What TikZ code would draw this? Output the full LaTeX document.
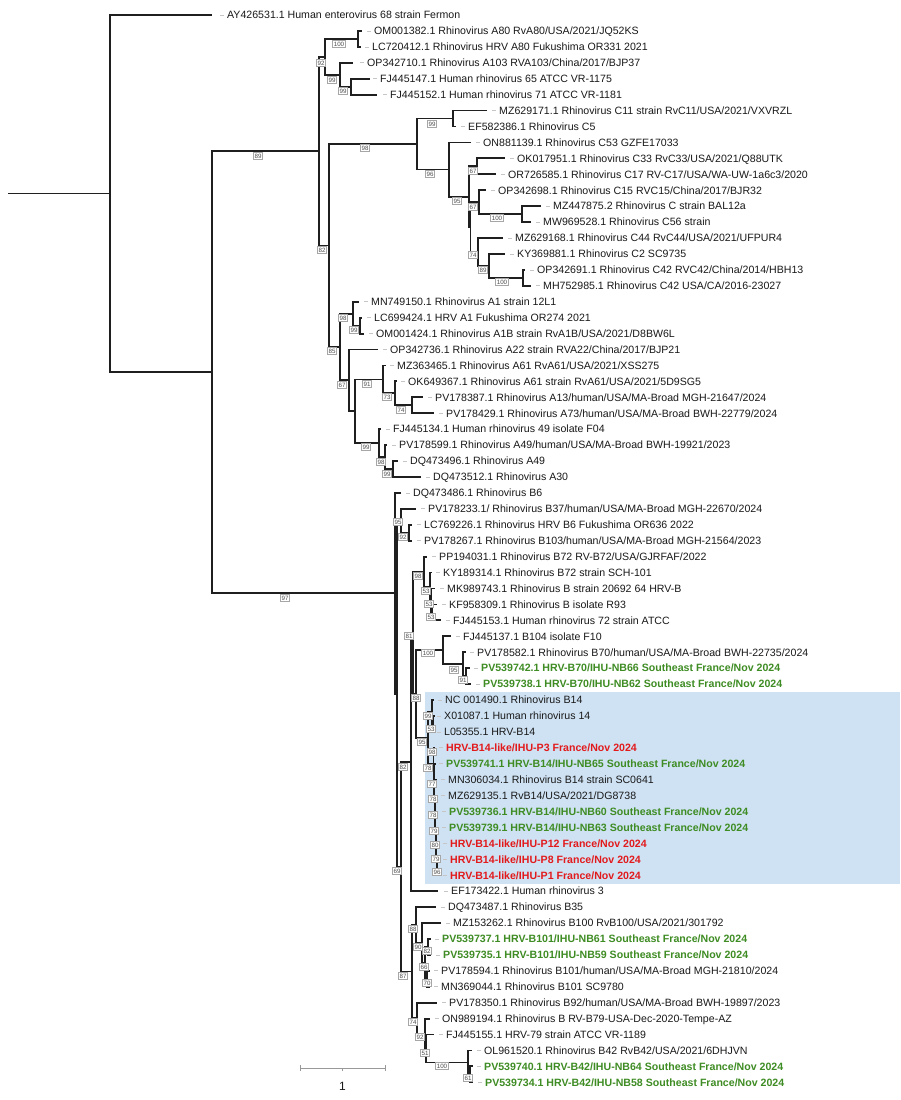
\documentclass[tikz,border=0pt]{standalone}
\usepackage{fontspec}
\setmainfont{Liberation Sans}
\definecolor{hgreen}{RGB}{62,140,35}
\definecolor{hred}{RGB}{226,26,28}
\definecolor{hblue}{RGB}{207,226,243}
\definecolor{txt}{RGB}{25,25,25}
\newcommand\yrow[1]{15+15.93*(#1-1)}
\newcommand\ylab[1]{18.8+15.93*(#1-1)}
\newcommand\lbf{\fontsize{10.6}{12}\selectfont}
\newcommand\mytip[5][]{%
  \coordinate (t#2) at (#3,{\yrow{#2}});
  \node[lab,#1] (l#2) at (#4,{\ylab{#2}}) {#5};
  \draw[lead] ({#4-7},{\yrow{#2}}) -- ({#4-3.5},{\yrow{#2}});
}
\newcommand\inode[3]{\coordinate (#1) at (#2,{\yrow{#3}});}
\begin{document}
\begin{tikzpicture}[x=1pt,y=-1pt,
  br/.style={line width=1.8pt, black!88, line join=miter},
  lab/.style={anchor=base west, inner sep=0pt, font=\lbf, text=txt},
  gb/.style={text=hgreen, font=\lbf\bfseries},
  rb/.style={text=hred, font=\lbf\bfseries},
  lead/.style={line width=0.7pt, gray!45},
  bs/.style={draw=gray!70, fill=white, line width=0.5pt, text=black!70,
    font=\fontsize{6.2}{6.2}\selectfont, inner xsep=1.1pt, inner ysep=1.3pt,
    text height=4.5pt, text depth=0pt},
  sb/.style={line width=0.8pt, gray!80}
]
\fill[white] (0,0) rectangle (900,1100);
\useasboundingbox (0,0) rectangle (900,1100);
% highlight
\fill[hblue] (425,692) rectangle (900,884);

% internal nodes
\inode{root}{8}{12.21}
\inode{R1}{110}{12.21}
\inode{R2}{212}{23.427}
\inode{nAC}{319}{9.5488}
\inode{n92}{325}{3.625}
\inode{nA80}{358}{2.5}
\inode{nA103}{340}{4.75}
\inode{nA65}{351}{5.5}
\inode{n82}{329}{15.4727}
\inode{nC98}{417}{9.1016}
\inode{nC99}{453}{7.5}
\inode{nC96}{449}{10.703}
\inode{nC95}{469}{12.406}
\inode{nC67a}{477}{10.5}
\inode{nCX}{470.5}{14.3125}
\inode{nC67b}{479}{12.75}
\inode{nC100}{522}{13.5}
\inode{nC74}{478}{15.875}
\inode{nC89}{489}{16.75}
\inode{nC100b}{523}{17.5}
\inode{n85}{340}{21.84375}
\inode{nA198}{353}{19.75}
\inode{nA199}{360}{20.5}
\inode{n67}{349}{23.9375}
\inode{nY}{355}{25.875}
\inode{n91}{383}{23.875}
\inode{n73}{395}{24.75}
\inode{n74A}{412}{25.5}
\inode{n99A}{379}{27.875}
\inode{n98A}{385}{28.75}
\inode{n99c}{393}{29.5}
\inode{nB}{395}{37.305}
\inode{nYB}{397}{43.61}
\inode{n95a}{401}{32.75}
\inode{n92a}{409}{33.5}
\inode{n69}{401}{54.47}
\inode{n82B}{411}{47.89}
\inode{n81}{413}{39.781}
\inode{n98B}{424}{35.9375}
\inode{n53a}{430}{36.875}
\inode{n53b}{431}{37.75}
\inode{n53c}{432}{38.5}
\inode{n88}{416}{43.624}
\inode{n100b}{443}{40.875}
\inode{n95b}{463}{41.75}
\inode{n91B}{466}{42.5}
\inode{n95c}{428}{46.373}
\inode{n99d}{432}{44.75}
\inode{n53d}{433}{45.5}
\inode{c8}{433.5}{47.996}
\inode{c7}{434}{48.992}
\inode{c6}{434.5}{49.984}
\inode{c5}{435}{50.969}
\inode{c4}{435.5}{51.9375}
\inode{c3}{436}{52.875}
\inode{c2}{436.5}{53.75}
\inode{c1}{437}{54.5}
\inode{n87}{412}{61.047}
\inode{n88x}{416}{58.125}
\inode{n90}{422}{59.25}
\inode{n66}{425}{60.5}
\inode{n82x}{428}{59.5}
\inode{n70}{427}{61.5}
\inode{n74x}{417}{63.969}
\inode{n92x}{425}{64.9375}
\inode{n51}{426}{65.875}
\inode{n100x}{468}{66.75}
\inode{n61}{470}{67.5}

% tips and labels
\mytip{1}{212}{227}{AY426531.1 Human enterovirus 68 strain Fermon}
\mytip{2}{362}{374}{OM001382.1 Rhinovirus A80 RvA80/USA/2021/JQ52KS}
\mytip{3}{361}{372}{LC720412.1 Rhinovirus HRV A80 Fukushima OR331 2021}
\mytip{4}{353}{367}{OP342710.1 Rhinovirus A103 RVA103/China/2017/BJP37}
\mytip{5}{370}{380}{FJ445147.1 Human rhinovirus 65 ATCC VR-1175}
\mytip{6}{377}{390}{FJ445152.1 Human rhinovirus 71 ATCC VR-1181}
\mytip{7}{487}{499}{MZ629171.1 Rhinovirus C11 strain RvC11/USA/2021/VXVRZL}
\mytip{8}{456}{468}{EF582386.1 Rhinovirus C5}
\mytip{9}{471}{483}{ON881139.1 Rhinovirus C53 GZFE17033}
\mytip{10}{505}{517}{OK017951.1 Rhinovirus C33 RvC33/USA/2021/Q88UTK}
\mytip{11}{496}{508}{OR726585.1 Rhinovirus C17 RV-C17/USA/WA-UW-1a6c3/2020}
\mytip{12}{486}{498}{OP342698.1 Rhinovirus C15 RVC15/China/2017/BJR32}
\mytip{13}{541}{553}{MZ447875.2 Rhinovirus C strain BAL12a}
\mytip{14}{531}{543}{MW969528.1 Rhinovirus C56 strain}
\mytip{15}{503}{515}{MZ629168.1 Rhinovirus C44 RvC44/USA/2021/UFPUR4}
\mytip{16}{505}{517}{KY369881.1 Rhinovirus C2 SC9735}
\mytip{17}{525}{537}{OP342691.1 Rhinovirus C42 RVC42/China/2014/HBH13}
\mytip{18}{531}{543}{MH752985.1 Rhinovirus C42 USA/CA/2016-23027}
\mytip{19}{359}{371}{MN749150.1 Rhinovirus A1 strain 12L1}
\mytip{20}{362}{374}{LC699424.1 HRV A1 Fukushima OR274 2021}
\mytip{21}{364}{376}{OM001424.1 Rhinovirus A1B strain RvA1B/USA/2021/D8BW6L}
\mytip{22}{378}{390}{OP342736.1 Rhinovirus A22 strain RVA22/China/2017/BJP21}
\mytip{23}{386}{397}{MZ363465.1 Rhinovirus A61 RvA61/USA/2021/XSS275}
\mytip{24}{397}{408}{OK649367.1 Rhinovirus A61 strain RvA61/USA/2021/5D9SG5}
\mytip{25}{423}{435}{PV178387.1 Rhinovirus A13/human/USA/MA-Broad MGH-21647/2024}
\mytip{26}{434}{446}{PV178429.1 Rhinovirus A73/human/USA/MA-Broad BWH-22779/2024}
\mytip{27}{381}{393}{FJ445134.1 Human rhinovirus 49 isolate F04}
\mytip{28}{387}{399}{PV178599.1 Rhinovirus A49/human/USA/MA-Broad BWH-19921/2023}
\mytip{29}{398}{410}{DQ473496.1 Rhinovirus A49}
\mytip{30}{421}{433}{DQ473512.1 Rhinovirus A30}
\mytip{31}{401}{413}{DQ473486.1 Rhinovirus B6}
\mytip{32}{416}{428}{PV178233.1/ Rhinovirus B37/human/USA/MA-Broad MGH-22670/2024}
\mytip{33}{412}{424}{LC769226.1 Rhinovirus HRV B6 Fukushima OR636 2022}
\mytip{34}{412}{424}{PV178267.1 Rhinovirus B103/human/USA/MA-Broad MGH-21564/2023}
\mytip{35}{427}{439}{PP194031.1 Rhinovirus B72 RV-B72/USA/GJRFAF/2022}
\mytip{36}{432}{443}{KY189314.1 Rhinovirus B72 strain SCH-101}
\mytip{37}{435}{447}{MK989743.1 Rhinovirus B strain 20692 64 HRV-B}
\mytip{38}{437}{449}{KF958309.1 Rhinovirus B isolate R93}
\mytip{39}{441}{453}{FJ445153.1 Human rhinovirus 72 strain ATCC}
\mytip{40}{451}{463}{FJ445137.1 B104 isolate F10}
\mytip{41}{466}{477}{PV178582.1 Rhinovirus B70/human/USA/MA-Broad BWH-22735/2024}
\mytip[gb]{42}{470}{481}{PV539742.1 HRV-B70/IHU-NB66 Southeast France/Nov 2024}
\mytip[gb]{43}{471}{483}{PV539738.1 HRV-B70/IHU-NB62 Southeast France/Nov 2024}
\mytip{44}{434}{445}{NC 001490.1 Rhinovirus B14}
\mytip{45}{434.5}{444}{X01087.1 Human rhinovirus 14}
\mytip{46}{434.5}{444}{L05355.1 HRV-B14}
\mytip[rb]{47}{435}{446}{HRV-B14-like/IHU-P3 France/Nov 2024}
\mytip[gb]{48}{436}{446}{PV539741.1 HRV-B14/IHU-NB65 Southeast France/Nov 2024}
\mytip{49}{437}{448}{MN306034.1 Rhinovirus B14 strain SC0641}
\mytip{50}{437}{448}{MZ629135.1 RvB14/USA/2021/DG8738}
\mytip[gb]{51}{438}{449}{PV539736.1 HRV-B14/IHU-NB60 Southeast France/Nov 2024}
\mytip[gb]{52}{438}{449}{PV539739.1 HRV-B14/IHU-NB63 Southeast France/Nov 2024}
\mytip[rb]{53}{439}{450}{HRV-B14-like/IHU-P12 France/Nov 2024}
\mytip[rb]{54}{439}{450}{HRV-B14-like/IHU-P8 France/Nov 2024}
\mytip[rb]{55}{439}{450}{HRV-B14-like/IHU-P1 France/Nov 2024}
\mytip{56}{438}{451}{EF173422.1 Human rhinovirus 3}
\mytip{57}{436}{448}{DQ473487.1 Rhinovirus B35}
\mytip{58}{441}{453}{MZ153262.1 Rhinovirus B100 RvB100/USA/2021/301792}
\mytip[gb]{59}{431}{442}{PV539737.1 HRV-B101/IHU-NB61 Southeast France/Nov 2024}
\mytip[gb]{60}{431}{443}{PV539735.1 HRV-B101/IHU-NB59 Southeast France/Nov 2024}
\mytip{61}{430}{441}{PV178594.1 Rhinovirus B101/human/USA/MA-Broad MGH-21810/2024}
\mytip{62}{430}{441}{MN369044.1 Rhinovirus B101 SC9780}
\mytip{63}{437}{449}{PV178350.1 Rhinovirus B92/human/USA/MA-Broad BWH-19897/2023}
\mytip{64}{430}{442}{ON989194.1 Rhinovirus B RV-B79-USA-Dec-2020-Tempe-AZ}
\mytip{65}{434}{446}{FJ445155.1 HRV-79 strain ATCC VR-1189}
\mytip{66}{472}{484}{OL961520.1 Rhinovirus B42 RvB42/USA/2021/6DHJVN}
\mytip[gb]{67}{473}{484}{PV539740.1 HRV-B42/IHU-NB64 Southeast France/Nov 2024}
\mytip[gb]{68}{473}{485}{PV539734.1 HRV-B42/IHU-NB58 Southeast France/Nov 2024}

% branches
\draw[br] (root) -- (R1)
  (R1) |- (t1) (R1) |- (R2)
  (R2) |- (nAC) (R2) |- (nB)
  (nAC) |- (n92) (nAC) |- (n82)
  (n92) |- (nA80) (n92) |- (nA103)
  (nA80) |- (t2) (nA80) |- (t3)
  (nA103) |- (t4) (nA103) |- (nA65)
  (nA65) |- (t5) (nA65) |- (t6)
  (n82) |- (nC98) (n82) |- (n85)
  (nC98) |- (nC99) (nC98) |- (nC96)
  (nC99) |- (t7) (nC99) |- (t8)
  (nC96) |- (t9) (nC96) |- (nC95)
  (nC95) |- (nC67a) (nC95) |- (nCX)
  (nC67a) |- (t10) (nC67a) |- (t11)
  (nCX) |- (nC67b) (nCX) |- (nC74)
  (nC67b) |- (t12) (nC67b) |- (nC100)
  (nC100) |- (t13) (nC100) |- (t14)
  (nC74) |- (t15) (nC74) |- (nC89)
  (nC89) |- (t16) (nC89) |- (nC100b)
  (nC100b) |- (t17) (nC100b) |- (t18)
  (n85) |- (nA198) (n85) |- (n67)
  (nA198) |- (t19) (nA198) |- (nA199)
  (nA199) |- (t20) (nA199) |- (t21)
  (n67) |- (t22) (n67) |- (nY)
  (nY) |- (n91) (nY) |- (n99A)
  (n91) |- (t23) (n91) |- (n73)
  (n73) |- (t24) (n73) |- (n74A)
  (n74A) |- (t25) (n74A) |- (t26)
  (n99A) |- (t27) (n99A) |- (n98A)
  (n98A) |- (t28) (n98A) |- (n99c)
  (n99c) |- (t29) (n99c) |- (t30)
  (nB) |- (t31) (nB) |- (nYB)
  (nYB) |- (n95a) (nYB) |- (n69)
  (n95a) |- (t32) (n95a) |- (n92a)
  (n92a) |- (t33) (n92a) |- (t34)
  (n69) |- (n82B) (n69) |- (n87)
  (n82B) |- (n81) (n82B) |- (t56)
  (n81) |- (n98B) (n81) |- (n88)
  (n98B) |- (t35) (n98B) |- (n53a)
  (n53a) |- (t36) (n53a) |- (n53b)
  (n53b) |- (t37) (n53b) |- (n53c)
  (n53c) |- (t38) (n53c) |- (t39)
  (n88) |- (n100b) (n88) |- (n95c)
  (n100b) |- (t40) (n100b) |- (n95b)
  (n95b) |- (t41) (n95b) |- (n91B)
  (n91B) |- (t42) (n91B) |- (t43)
  (n95c) |- (n99d) (n95c) |- (c8)
  (n99d) |- (t44) (n99d) |- (n53d)
  (n53d) |- (t45) (n53d) |- (t46)
  (c8) |- (t47) (c8) |- (c7)
  (c7) |- (t48) (c7) |- (c6)
  (c6) |- (t49) (c6) |- (c5)
  (c5) |- (t50) (c5) |- (c4)
  (c4) |- (t51) (c4) |- (c3)
  (c3) |- (t52) (c3) |- (c2)
  (c2) |- (t53) (c2) |- (c1)
  (c1) |- (t54) (c1) |- (t55)
  (n87) |- (n88x) (n87) |- (n74x)
  (n88x) |- (t57) (n88x) |- (n90)
  (n90) |- (t58) (n90) |- (n66)
  (n66) |- (n82x) (n66) |- (n70)
  (n82x) |- (t59) (n82x) |- (t60)
  (n70) |- (t61) (n70) |- (t62)
  (n74x) |- (t63) (n74x) |- (n92x)
  (n92x) |- (t64) (n92x) |- (n51)
  (n51) |- (t65) (n51) |- (n100x)
  (n100x) |- (t66) (n100x) |- (n61)
  (n61) |- (t67) (n61) |- (t68);

% bootstrap boxes
\node[bs] (b01) at (258,156) {89};
\node[bs] (b02) at (285,598) {97};
\node[bs] (b03) at (321,63) {92};
\node[bs] (b04) at (339,44) {100};
\node[bs] (b05) at (332,80) {99};
\node[bs] (b06) at (343,91) {99};
\node[bs] (b07) at (322,250) {82};
\node[bs] (b08) at (365,148) {98};
\node[bs] (b09) at (332,351) {85};
\node[bs] (b10) at (343,318) {98};
\node[bs] (b11) at (354,330) {99};
\node[bs] (b12) at (342,385) {67};
\node[bs] (b13) at (367,384) {91};
\node[bs] (b14) at (387,397) {73};
\node[bs] (b15) at (401,410) {74};
\node[bs] (b16) at (366,447) {99};
\node[bs] (b17) at (381,462) {98};
\node[bs] (b18) at (387,474) {99};
\node[bs] (b19) at (432,124) {99};
\node[bs] (b20) at (430,174) {96};
\node[bs] (b21) at (457,201) {95};
\node[bs] (b22) at (473,171) {67};
\node[bs] (b23) at (473,207) {67};
\node[bs] (b24) at (497,218) {100};
\node[bs] (b25) at (473,255) {74};
\node[bs] (b26) at (483,270) {89};
\node[bs] (b27) at (502,282) {100};
\node[bs] (b28) at (398,522) {95};
\node[bs] (b29) at (403,537) {92};
\node[bs] (b30) at (418,576) {98};
\node[bs] (b31) at (426,591) {53};
\node[bs] (b32) at (429,604) {53};
\node[bs] (b33) at (431,617) {53};
\node[bs] (b34) at (409,636) {81};
\node[bs] (b35) at (428,653) {100};
\node[bs] (b36) at (454,670) {95};
\node[bs] (b37) at (463,680) {91};
\node[bs] (b38) at (416,698) {88};
\node[bs] (b39) at (428,716) {99};
\node[bs] (b40) at (431,729) {53};
\node[bs] (b41) at (422,742) {95};
\node[bs] (b42) at (432,752) {98};
\node[bs] (b43) at (428,768) {78};
\node[bs] (b44) at (432,784) {77};
\node[bs] (b45) at (433,799) {78};
\node[bs] (b46) at (433,815) {78};
\node[bs] (b47) at (434,831) {79};
\node[bs] (b48) at (435,845) {80};
\node[bs] (b49) at (436,859) {79};
\node[bs] (b50) at (437,872) {96};
\node[bs] (b51) at (403,767) {82};
\node[bs] (b52) at (397,871) {69};
\node[bs] (b53) at (413,929) {88};
\node[bs] (b54) at (418,947) {90};
\node[bs] (b55) at (427,951) {82};
\node[bs] (b56) at (424,967) {66};
\node[bs] (b57) at (427,983) {70};
\node[bs] (b58) at (403,976) {87};
\node[bs] (b59) at (413,1022) {74};
\node[bs] (b60) at (420,1037) {92};
\node[bs] (b61) at (425,1053) {51};
\node[bs] (b62) at (442,1066) {100};
\node[bs] (b63) at (468,1078) {61};

% scale bar
\coordinate (sbL) at (300,1068);
\coordinate (sbR) at (385,1068);
\coordinate (sbM) at (342.5,1068);
\draw[sb] (sbL) -- (sbR);
\draw[sb] (sbL) ++(0,-3) -- ++(0,6);
\draw[sb] (sbR) ++(0,-3) -- ++(0,6);
\draw[sb] (sbM) -- ++(0,2.5);
\node[font=\fontsize{12}{14}\selectfont, text=txt] (sblab) at (342.5,1086) {1};
\end{tikzpicture}
\end{document}
